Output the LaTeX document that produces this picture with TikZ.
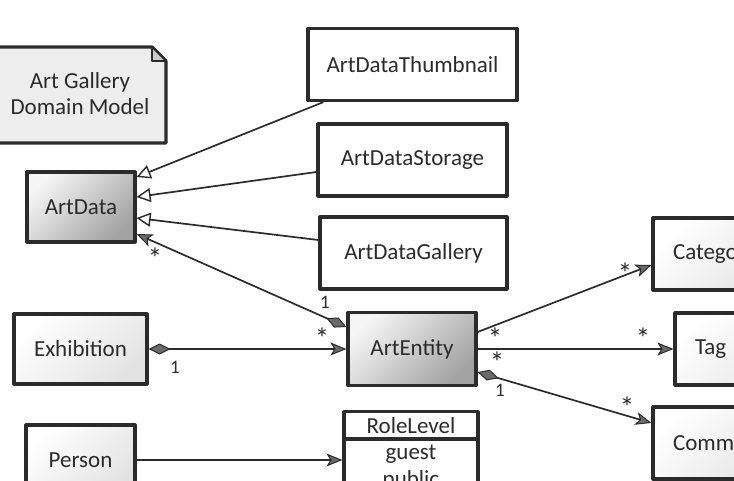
\documentclass[tikz,border=0pt]{standalone}
\usepackage{fontspec}
\setmainfont{Carlito}
\usetikzlibrary{arrows.meta,shapes.multipart}
\definecolor{ink}{HTML}{2B2B2B}
\definecolor{tipgray}{HTML}{6A6A6A}
\newcommand{\many}{\raisebox{-0.42em}{*}}
\tikzset{
  box/.style={draw=ink, line width=3.2pt, line join=round, minimum width=#1,
    minimum height=72pt, text=ink, font=\fontsize{23}{27}\selectfont},
  plainbox/.style={fill=white},
  lightbox/.style={top color=white, bottom color=gray!22, shading angle=45},
  darkbox/.style={top color=gray!8, bottom color=gray!72, shading angle=45},
  cutbox/.style={text width=110pt, inner xsep=20pt, align=left},
  link/.style={draw=ink, line width=1.7pt},
  isa/.style={link, -{Triangle[open, fill=white, length=14pt, width=14pt, line width=1.4pt]}},
  nav/.style={link, -{Stealth[length=16pt, width=13pt, inset=4pt, fill=tipgray, line width=1pt]}},
  owns/.style={link, {Diamond[length=22pt, width=11pt, fill=tipgray, line width=1pt]}-{Stealth[length=16pt, width=13pt, inset=4pt, fill=tipgray, line width=1pt]}},
  mult/.style={text=ink, inner sep=1pt, font=\fontsize{19}{21}\selectfont},
  manymult/.style={mult, font=\fontsize{29}{29}\selectfont, text height=0.35em, text depth=0pt}
}
\begin{document}
\begin{tikzpicture}[x=1pt, y=1pt]
  \useasboundingbox (0,0) rectangle (734,480);
  % note
  \draw[ink, line width=3.2pt, line join=round, fill=gray!14] (-6,337) -- (-6,433) -- (152,433) -- (166,419) -- (166,337) -- cycle; %
  \draw[ink, line width=1.6pt, line join=round, fill=gray!40] (152,433) -- (166,419) -- (152,419) -- cycle; %
  \node[text=ink, align=center, font=\fontsize{23}{26}\selectfont] (note) at (80,386) {Art Gallery\\Domain Model}; %
  % classes
  \node[box=108pt, darkbox, minimum height=70pt] (artdata) at (81,273) {ArtData}; %
  \node[box=209pt, plainbox] (thumb) at (412.5,415.5) {ArtDataThumbnail}; %
  \node[box=189pt, plainbox] (storage) at (412.5,320) {ArtDataStorage}; %
  \node[box=187pt, plainbox] (gallery) at (413.5,227) {ArtDataGallery}; %
  \node[box=133pt, lightbox, minimum height=70pt] (exhibition) at (80.5,131) {Exhibition}; %
  \node[box=128pt, darkbox, minimum height=73pt] (artentity) at (412,131) {ArtEntity}; %
  \node[box=109pt, lightbox, minimum height=70pt] (person) at (80.5,20) {Person}; %
  \node[box=134pt, plainbox, rectangle split, rectangle split parts=2, text width=118pt,
    align=center, inner ysep=4pt, anchor=north, font=\fontsize{23}{27}\selectfont] (role) at (411,70)
    {RoleLevel\nodepart{two}guest\\public}; %
  \node[box=150pt, lightbox, cutbox] (category) at (728,226) {Category}; %
  \node[box=150pt, lightbox, cutbox] (tag) at (750,131) {Tag}; %
  \node[box=150pt, lightbox, cutbox] (comment) at (728,37) {Comment}; %
  % generalisation
  \draw[isa] ([xshift=17pt]thumb.south west) -- ([yshift=30pt]artdata.east); %
  \draw[isa] ([yshift=-12pt]storage.west) -- ([yshift=10pt]artdata.east); %
  \draw[isa] ([yshift=13pt]gallery.west) -- ([yshift=-11pt]artdata.east); %
  % associations
  \draw[owns] ([yshift=22pt]artentity.west) -- ([yshift=-27pt]artdata.east); %
  \draw[owns] (exhibition.east) -- (artentity.west); %
  \draw[nav] (person.east) -- (person.east -| role.west); %
  \draw[nav] ([yshift=17pt]artentity.east) -- ([yshift=-11pt]category.west); %
  \draw[nav] (artentity.east) -- (artentity.east -| tag.west); %
  \draw[owns] ([yshift=-23pt]artentity.east) -- ([yshift=20pt]comment.west); %
  % multiplicities
  \node[manymult] (m1) at (155,225) {\many}; %
  \node[mult] (m2) at (325,178) {1}; %
  \node[mult] (m3) at (175,113) {1}; %
  \node[manymult] (m4) at (322,145) {\many}; %
  \node[manymult] (m5) at (495,145) {\many}; %
  \node[manymult] (m6) at (497,121) {\many}; %
  \node[mult] (m7) at (500,90) {1}; %
  \node[manymult] (m8) at (625,210) {\many}; %
  \node[manymult] (m9) at (643,145) {\many}; %
  \node[manymult] (m10) at (627,76) {\many}; %
\end{tikzpicture}
\end{document}
